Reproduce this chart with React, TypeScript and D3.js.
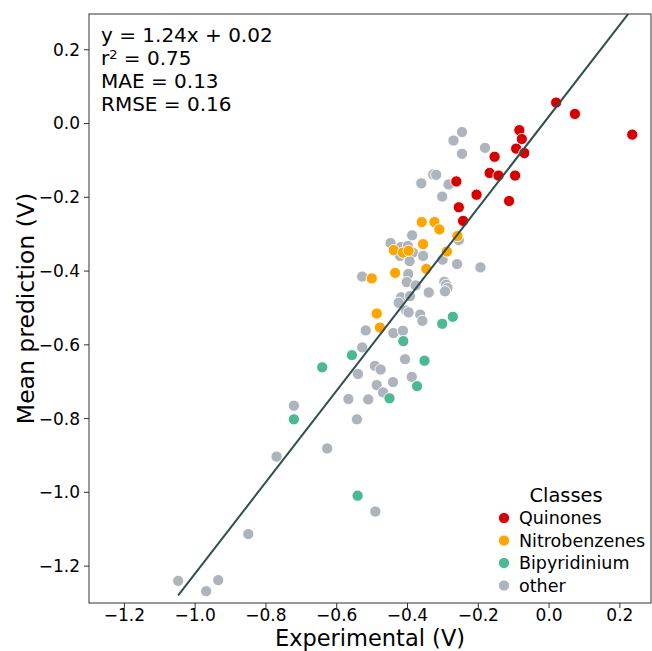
import React from "react";
import * as d3 from "d3";

const W = 652, H = 651;
const M = { left: 89, top: 14, right: 651, bottom: 603 };

const classes = ["Quinones", "Nitrobenzenes", "Bipyridinium", "other"];
const classColors = ["#d60000", "#ffa500", "#4cb994", "#adb4bc"];

const quinonesX = [0.020, 0.073, 0.235, -0.084, -0.077, -0.093, -0.070, -0.154, -0.168, -0.143, -0.096, -0.262, -0.205, -0.113, -0.255, -0.243];
const quinonesY = [0.057, 0.026, -0.030, -0.018, -0.042, -0.068, -0.080, -0.090, -0.134, -0.141, -0.141, -0.157, -0.193, -0.210, -0.227, -0.264];

const nitroX = [-0.360, -0.324, -0.310, -0.259, -0.356, -0.439, -0.413, -0.397, -0.289, -0.435, -0.347, -0.501, -0.487, -0.478];
const nitroY = [-0.267, -0.267, -0.287, -0.305, -0.327, -0.343, -0.350, -0.345, -0.347, -0.405, -0.394, -0.420, -0.515, -0.553];

const bipyX = [-0.302, -0.272, -0.412, -0.557, -0.641, -0.352, -0.373, -0.451, -0.721, -0.541];
const bipyY = [-0.543, -0.524, -0.590, -0.628, -0.661, -0.643, -0.712, -0.745, -0.802, -1.009];

const otherX = [-0.246, -0.270, -0.246, -0.181, -0.327, -0.319, -0.361, -0.284, -0.302, -0.387, -0.255, -0.448, -0.419, -0.399, -0.421, -0.385, -0.356, -0.394, -0.301, -0.260, -0.194, -0.528, -0.398, -0.402, -0.377, -0.296, -0.291, -0.287, -0.294, -0.340, -0.418, -0.393, -0.425, -0.404, -0.397, -0.364, -0.358, -0.518, -0.440, -0.413, -0.528, -0.407, -0.492, -0.476, -0.540, -0.388, -0.487, -0.441, -0.469, -0.567, -0.511, -0.721, -0.543, -0.627, -0.770, -0.491, -0.850, -1.048, -0.969, -0.935];
const otherY = [-0.023, -0.046, -0.082, -0.066, -0.138, -0.139, -0.162, -0.165, -0.198, -0.303, -0.316, -0.324, -0.335, -0.332, -0.359, -0.350, -0.359, -0.373, -0.369, -0.381, -0.390, -0.415, -0.408, -0.430, -0.439, -0.429, -0.437, -0.446, -0.455, -0.458, -0.471, -0.468, -0.486, -0.507, -0.512, -0.518, -0.535, -0.561, -0.568, -0.562, -0.607, -0.639, -0.657, -0.667, -0.679, -0.687, -0.709, -0.701, -0.729, -0.747, -0.748, -0.765, -0.802, -0.881, -0.903, -1.052, -1.113, -1.240, -1.268, -1.238];

const xTicks = [-1.2, -1.0, -0.8, -0.6, -0.4, -0.2, 0.0, 0.2];
const yTicks = [0.2, 0.0, -0.2, -0.4, -0.6, -0.8, -1.0, -1.2];
const statsLines = ["y = 1.24x + 0.02", "r2 = 0.75", "MAE = 0.13", "RMSE = 0.16"];
const slope = 1.24, intercept = 0.02;

const FONT = "DejaVu Sans, sans-serif";

export default function App() {
  const x = d3.scaleLinear().domain([-1.3, 0.288]).range([M.left, M.right]);
  const y = d3.scaleLinear().domain([-1.3, 0.297]).range([M.bottom, M.top]);
  const fmt = (v: number) => d3.format(".1f")(v).replace("-", "\u2212");

  const series = [
    { xs: quinonesX, ys: quinonesY },
    { xs: nitroX, ys: nitroY },
    { xs: bipyX, ys: bipyY },
    { xs: otherX, ys: otherY },
  ];
  const allX = [...quinonesX, ...nitroX, ...bipyX, ...otherX];
  const xmin = d3.min(allX)!, xmax = d3.max(allX)!;
  const line = d3.line<number>().x((d) => x(d)).y((d) => y(slope * d + intercept));

  const order = [3, 0, 1, 2];

  return (
    <svg width={W} height={H} style={{ position: "absolute", left: 0, top: 0, background: "#fff" }} fontFamily={FONT}>
      <defs>
        <clipPath id="plotclip">
          <rect x={M.left} y={M.top} width={M.right - M.left} height={M.bottom - M.top} />
        </clipPath>
      </defs>
      <rect x={0} y={0} width={W} height={H} fill="#fff" />
      {order.map((ci) => (
        <g key={ci} clipPath="url(#plotclip)">
          {series[ci].xs.map((vx, i) => (
            <circle key={i} cx={x(vx)} cy={y(series[ci].ys[i])} r={5.6} fill={classColors[ci]} stroke="#fff" strokeWidth={0.9} />
          ))}
        </g>
      ))}
      <path d={line([xmin, xmax]) ?? ""} fill="none" stroke="#2f4f4f" strokeWidth={2} clipPath="url(#plotclip)" />
      <rect x={M.left} y={M.top} width={M.right - M.left} height={M.bottom - M.top} fill="none" stroke="#333" strokeWidth={1} />
      {xTicks.map((t) => (
        <g key={t} transform={`translate(${x(t)},${M.bottom})`}>
          <line y2={5} stroke="#333" />
          <text y={18} textAnchor="middle" fontSize={17} fill="#000">{fmt(t)}</text>
        </g>
      ))}
      {yTicks.map((t) => (
        <g key={t} transform={`translate(${M.left},${y(t)})`}>
          <line x2={-5} stroke="#333" />
          <text x={-9} dy="0.35em" textAnchor="end" fontSize={17} fill="#000">{fmt(t)}</text>
        </g>
      ))}
      <text x={(M.left + M.right) / 2} y={646} textAnchor="middle" fontSize={22.5} fill="#000">Experimental (V)</text>
      <text transform={`translate(34,${(M.top + M.bottom) / 2}) rotate(-90)`} textAnchor="middle" fontSize={23.5} fill="#000">Mean prediction (V)</text>
      {statsLines.map((s, i) => (
        <text key={i} x={101} y={42 + i * 23} fontSize={20} fill="#000">
          {s.startsWith("r2") ? (<><tspan>r</tspan><tspan dy={-6} fontSize={13}>2</tspan><tspan dy={6}>{s.slice(2)}</tspan></>) : s}
        </text>
      ))}
      <text x={566} y={502} textAnchor="middle" fontSize={19.4} fill="#000">Classes</text>
      {classes.map((c, i) => (
        <g key={c} transform={`translate(0,${518 + i * 22.5})`}>
          <circle cx={504} cy={0} r={5.6} fill={classColors[i]} stroke="#fff" strokeWidth={0.9} />
          <text x={519} dy="0.35em" fontSize={17.5} fill="#000">{c}</text>
        </g>
      ))}
    </svg>
  );
}
